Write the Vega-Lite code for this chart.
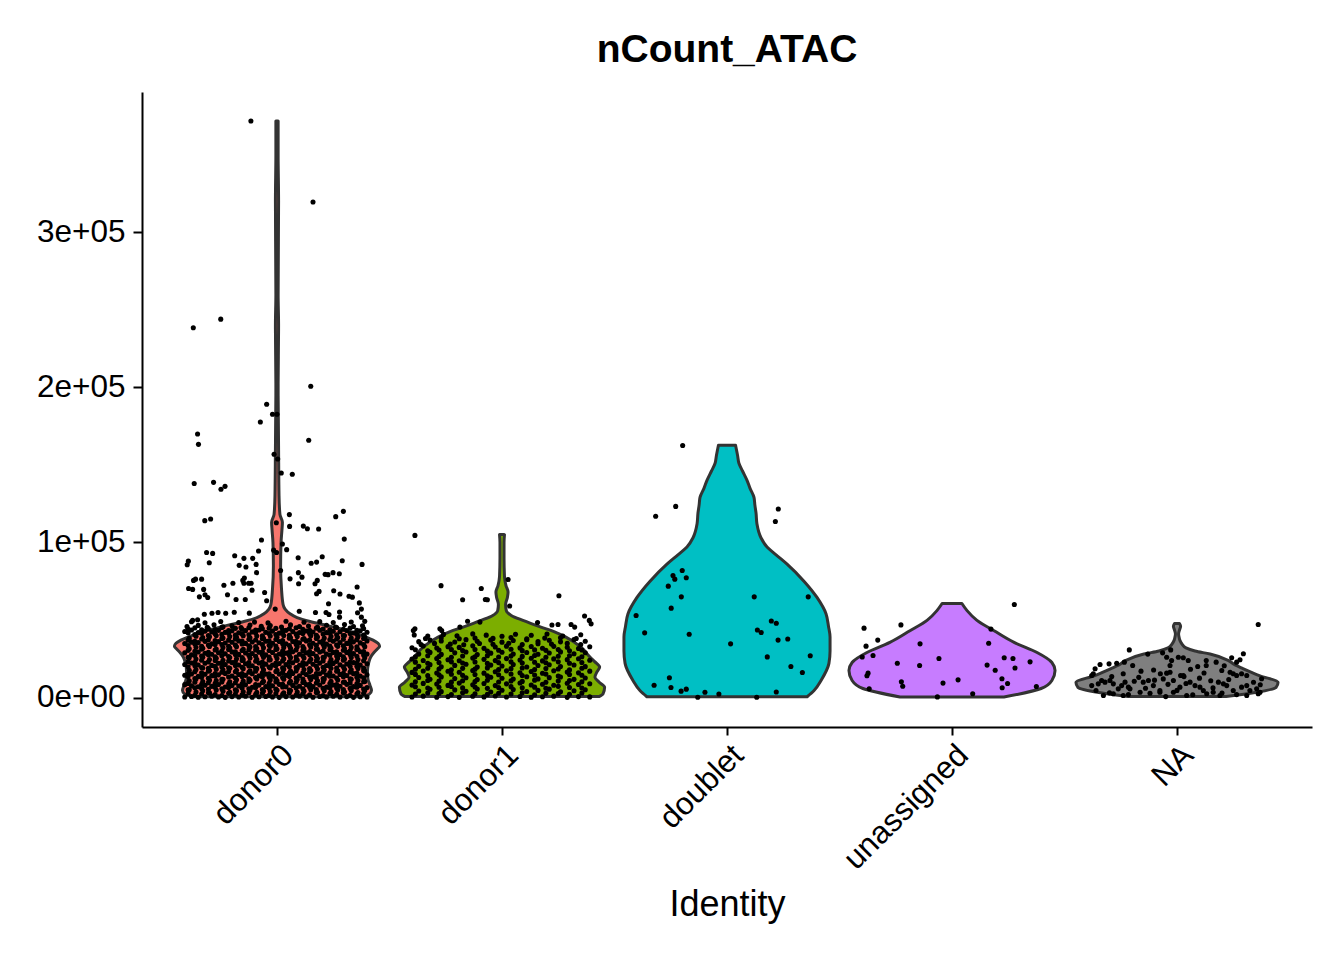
{
  "$schema": "https://vega.github.io/schema/vega-lite/v6.json",
  "width": 1170,
  "height": 635,
  "autosize": {"type": "none"},
  "padding": {"left": 142, "top": 92, "right": 32, "bottom": 233},
  "background": "white",
  "title": {"text": "nCount_ATAC", "font": "Liberation Sans", "fontSize": 39, "fontWeight": "bold", "color": "black", "anchor": "middle", "offset": 22},
  "config": {"view": {"stroke": null}, "font": "Liberation Sans"},
  "datasets": {
    "violin": [
      {"g":"donor0","v":500,"lo":0.627,"hi":1.373},{"g":"donor0","v":2000,"lo":0.591,"hi":1.409},{"g":"donor0","v":4500,"lo":0.58,"hi":1.42},{"g":"donor0","v":8000,"lo":0.587,"hi":1.413},{"g":"donor0","v":12000,"lo":0.596,"hi":1.404},{"g":"donor0","v":17000,"lo":0.598,"hi":1.402},{"g":"donor0","v":22000,"lo":0.593,"hi":1.407},{"g":"donor0","v":26000,"lo":0.584,"hi":1.416},{"g":"donor0","v":29000,"lo":0.569,"hi":1.431},{"g":"donor0","v":31000,"lo":0.556,"hi":1.444},{"g":"donor0","v":33000,"lo":0.544,"hi":1.456},{"g":"donor0","v":35000,"lo":0.551,"hi":1.449},{"g":"donor0","v":37000,"lo":0.573,"hi":1.427},{"g":"donor0","v":39000,"lo":0.604,"hi":1.396},{"g":"donor0","v":42000,"lo":0.662,"hi":1.338},{"g":"donor0","v":44500,"lo":0.724,"hi":1.276},{"g":"donor0","v":46500,"lo":0.778,"hi":1.222},{"g":"donor0","v":49000,"lo":0.853,"hi":1.147},{"g":"donor0","v":51500,"lo":0.911,"hi":1.089},{"g":"donor0","v":54000,"lo":0.942,"hi":1.058},{"g":"donor0","v":57000,"lo":0.964,"hi":1.036},{"g":"donor0","v":60000,"lo":0.973,"hi":1.027},{"g":"donor0","v":70000,"lo":0.98,"hi":1.02},{"g":"donor0","v":85000,"lo":0.984,"hi":1.016},{"g":"donor0","v":100000,"lo":0.982,"hi":1.018},{"g":"donor0","v":108000,"lo":0.978,"hi":1.022},{"g":"donor0","v":113000,"lo":0.976,"hi":1.024},{"g":"donor0","v":118000,"lo":0.987,"hi":1.013},{"g":"donor0","v":130000,"lo":0.991,"hi":1.009},{"g":"donor0","v":160000,"lo":0.993,"hi":1.007},{"g":"donor0","v":200000,"lo":0.995,"hi":1.005},{"g":"donor0","v":240000,"lo":0.993,"hi":1.007},{"g":"donor0","v":260000,"lo":0.995,"hi":1.005},{"g":"donor0","v":320000,"lo":0.993,"hi":1.007},{"g":"donor0","v":350000,"lo":0.995,"hi":1.005},{"g":"donor0","v":371600,"lo":0.995,"hi":1.005},
      {"g":"donor1","v":600,"lo":1.569,"hi":2.431},{"g":"donor1","v":2400,"lo":1.551,"hi":2.449},{"g":"donor1","v":6700,"lo":1.544,"hi":2.456},{"g":"donor1","v":10000,"lo":1.569,"hi":2.431},{"g":"donor1","v":13100,"lo":1.587,"hi":2.413},{"g":"donor1","v":16500,"lo":1.578,"hi":2.422},{"g":"donor1","v":19600,"lo":1.566,"hi":2.434},{"g":"donor1","v":23000,"lo":1.587,"hi":2.413},{"g":"donor1","v":26000,"lo":1.609,"hi":2.391},{"g":"donor1","v":32500,"lo":1.649,"hi":2.351},{"g":"donor1","v":38900,"lo":1.716,"hi":2.284},{"g":"donor1","v":42500,"lo":1.769,"hi":2.231},{"g":"donor1","v":45400,"lo":1.827,"hi":2.173},{"g":"donor1","v":49700,"lo":1.907,"hi":2.093},{"g":"donor1","v":52900,"lo":1.959,"hi":2.041},{"g":"donor1","v":56100,"lo":1.981,"hi":2.019},{"g":"donor1","v":60000,"lo":1.984,"hi":2.016},{"g":"donor1","v":64500,"lo":1.976,"hi":2.024},{"g":"donor1","v":68000,"lo":1.973,"hi":2.027},{"g":"donor1","v":72000,"lo":1.982,"hi":2.018},{"g":"donor1","v":78000,"lo":1.989,"hi":2.011},{"g":"donor1","v":90000,"lo":1.991,"hi":2.009},{"g":"donor1","v":100000,"lo":1.991,"hi":2.009},{"g":"donor1","v":105000,"lo":1.989,"hi":2.011},
      {"g":"doublet","v":500,"lo":2.644,"hi":3.356},{"g":"doublet","v":4500,"lo":2.613,"hi":3.387},{"g":"doublet","v":11000,"lo":2.582,"hi":3.418},{"g":"doublet","v":22000,"lo":2.547,"hi":3.453},{"g":"doublet","v":30000,"lo":2.542,"hi":3.458},{"g":"doublet","v":39000,"lo":2.542,"hi":3.458},{"g":"doublet","v":46000,"lo":2.549,"hi":3.451},{"g":"doublet","v":54000,"lo":2.56,"hi":3.44},{"g":"doublet","v":64500,"lo":2.6,"hi":3.4},{"g":"doublet","v":75000,"lo":2.658,"hi":3.342},{"g":"doublet","v":86000,"lo":2.733,"hi":3.267},{"g":"doublet","v":92000,"lo":2.782,"hi":3.218},{"g":"doublet","v":97000,"lo":2.822,"hi":3.178},{"g":"doublet","v":103000,"lo":2.849,"hi":3.151},{"g":"doublet","v":112000,"lo":2.867,"hi":3.133},{"g":"doublet","v":119000,"lo":2.871,"hi":3.129},{"g":"doublet","v":124000,"lo":2.876,"hi":3.124},{"g":"doublet","v":129000,"lo":2.88,"hi":3.12},{"g":"doublet","v":135000,"lo":2.898,"hi":3.102},{"g":"doublet","v":140000,"lo":2.911,"hi":3.089},{"g":"doublet","v":146000,"lo":2.931,"hi":3.069},{"g":"doublet","v":151000,"lo":2.947,"hi":3.053},{"g":"doublet","v":156000,"lo":2.953,"hi":3.047},{"g":"doublet","v":162600,"lo":2.962,"hi":3.038},
      {"g":"unassigned","v":300,"lo":3.769,"hi":4.231},{"g":"unassigned","v":5800,"lo":3.604,"hi":4.396},{"g":"unassigned","v":11000,"lo":3.556,"hi":4.444},{"g":"unassigned","v":17400,"lo":3.542,"hi":4.458},{"g":"unassigned","v":22600,"lo":3.556,"hi":4.444},{"g":"unassigned","v":29000,"lo":3.622,"hi":4.378},{"g":"unassigned","v":35500,"lo":3.724,"hi":4.276},{"g":"unassigned","v":43000,"lo":3.813,"hi":4.187},{"g":"unassigned","v":49700,"lo":3.889,"hi":4.111},{"g":"unassigned","v":56000,"lo":3.933,"hi":4.067},{"g":"unassigned","v":60600,"lo":3.956,"hi":4.044},
      {"g":"NA","v":600,"lo":4.782,"hi":5.218},{"g":"NA","v":3200,"lo":4.653,"hi":5.347},{"g":"NA","v":6500,"lo":4.56,"hi":5.44},{"g":"NA","v":9700,"lo":4.551,"hi":5.449},{"g":"NA","v":14000,"lo":4.631,"hi":5.369},{"g":"NA","v":18700,"lo":4.707,"hi":5.293},{"g":"NA","v":21000,"lo":4.742,"hi":5.258},{"g":"NA","v":24000,"lo":4.773,"hi":5.227},{"g":"NA","v":28000,"lo":4.853,"hi":5.147},{"g":"NA","v":30000,"lo":4.92,"hi":5.08},{"g":"NA","v":32000,"lo":4.96,"hi":5.04},{"g":"NA","v":34500,"lo":4.978,"hi":5.022},{"g":"NA","v":36800,"lo":4.987,"hi":5.013},{"g":"NA","v":39000,"lo":4.991,"hi":5.009},{"g":"NA","v":41000,"lo":4.993,"hi":5.007},{"g":"NA","v":43500,"lo":4.989,"hi":5.011},{"g":"NA","v":46000,"lo":4.984,"hi":5.016},{"g":"NA","v":47700,"lo":4.989,"hi":5.011}
    ],
    "cells": [
      {"x":0.884,"v":371600},{"x":1.16,"v":319400},{"x":0.75,"v":243900},{"x":0.628,"v":238300},{"x":1.15,"v":200600},{"x":0.954,"v":189000},{"x":0.98,"v":182600},{"x":1.0,"v":182600},{"x":0.926,"v":177600},{"x":0.647,"v":169900},{"x":0.651,"v":163200},{"x":1.141,"v":165800},{"x":0.987,"v":156800},{"x":1.003,"v":153700},{"x":1.019,"v":144700},{"x":1.068,"v":143900},{"x":0.632,"v":138000},{"x":0.718,"v":138700},{"x":0.751,"v":134200},{"x":0.769,"v":136100},{"x":1.295,"v":120000},{"x":1.261,"v":116600},{"x":0.679,"v":114000},{"x":0.705,"v":115100},{"x":1.055,"v":117900},{"x":0.997,"v":112700},{"x":1.056,"v":110300},{"x":1.117,"v":110500},{"x":1.135,"v":108800},{"x":1.185,"v":108600},{"x":1.299,"v":102100},{"x":0.931,"v":101500},{"x":1.024,"v":99000},{"x":1.043,"v":95300},{"x":0.985,"v":95000},{"x":0.998,"v":93500},{"x":0.918,"v":94400},{"x":0.687,"v":93500},{"x":0.714,"v":92900},{"x":0.812,"v":91400},{"x":0.853,"v":89700},{"x":0.892,"v":89700},{"x":1.094,"v":90100},{"x":1.201,"v":90700},{"x":0.606,"v":87900},{"x":0.601,"v":85600},{"x":0.699,"v":86900},{"x":0.832,"v":85200},{"x":0.862,"v":84100},{"x":0.907,"v":85800},{"x":1.152,"v":86500},{"x":1.176,"v":87300},{"x":1.29,"v":88200},{"x":1.378,"v":85800},{"x":0.909,"v":80500},{"x":1.016,"v":81900},{"x":1.095,"v":80500},{"x":1.111,"v":77600},{"x":1.214,"v":79400},{"x":1.227,"v":79200},{"x":1.249,"v":80500},{"x":1.277,"v":79800},{"x":0.629,"v":75500},{"x":0.638,"v":76300},{"x":0.665,"v":76300},{"x":0.855,"v":77000},{"x":0.848,"v":75500},{"x":0.853,"v":73700},{"x":0.874,"v":73700},{"x":0.885,"v":73700},{"x":0.804,"v":73700},{"x":0.764,"v":72400},{"x":1.179,"v":75500},{"x":1.169,"v":73300},{"x":1.058,"v":76500},{"x":1.096,"v":73300},{"x":1.356,"v":71200},{"x":0.607,"v":70300},{"x":0.625,"v":69700},{"x":0.674,"v":69700},{"x":0.889,"v":69200},{"x":0.78,"v":66200},{"x":0.655,"v":64900},{"x":0.68,"v":66200},{"x":0.692,"v":64500},{"x":0.818,"v":63200},{"x":0.859,"v":63200},{"x":0.945,"v":67700},{"x":1.176,"v":66900},{"x":1.187,"v":68400},{"x":1.252,"v":68800},{"x":1.28,"v":66700},{"x":1.32,"v":65300},{"x":1.335,"v":64700},{"x":0.954,"v":62400},{"x":1.229,"v":60400},{"x":1.366,"v":61000},{"x":1.375,"v":57000},{"x":0.877,"v":54400},{"x":1.099,"v":55600},{"x":0.992,"v":57000},{"x":1.171,"v":54800},{"x":1.218,"v":54800},{"x":1.231,"v":53500},{"x":1.278,"v":55100},{"x":1.278,"v":51800},{"x":1.358,"v":54600},{"x":1.375,"v":51800},{"x":0.625,"v":49700},{"x":0.647,"v":50100},{"x":0.677,"v":53700},{"x":0.711,"v":54300},{"x":0.738,"v":54800},{"x":0.772,"v":54300},{"x":0.81,"v":55000},
      {"x":0.59,"v":300},{"x":0.62,"v":700},{"x":0.65,"v":200},{"x":0.68,"v":500},{"x":0.71,"v":900},{"x":0.74,"v":400},{"x":0.77,"v":100},{"x":0.8,"v":600},{"x":0.83,"v":300},{"x":0.86,"v":800},{"x":0.89,"v":200},{"x":0.92,"v":500},{"x":0.95,"v":700},{"x":0.98,"v":400},{"x":1.01,"v":100},{"x":1.04,"v":600},{"x":1.07,"v":300},{"x":1.1,"v":900},{"x":1.13,"v":500},{"x":1.16,"v":200},{"x":1.19,"v":700},{"x":1.22,"v":400},{"x":1.25,"v":800},{"x":1.28,"v":300},{"x":1.31,"v":600},{"x":1.34,"v":100},{"x":1.37,"v":500},{"x":1.4,"v":300},
      {"x":0.605,"v":2600},{"x":0.635,"v":1500},{"x":0.665,"v":2300},{"x":0.695,"v":3000},{"x":0.725,"v":1900},{"x":0.755,"v":1300},{"x":0.785,"v":2700},{"x":0.815,"v":2200},{"x":0.845,"v":1700},{"x":0.875,"v":3100},{"x":0.905,"v":2000},{"x":0.935,"v":2800},{"x":0.965,"v":1400},{"x":0.995,"v":2500},{"x":1.025,"v":2100},{"x":1.055,"v":2900},{"x":1.085,"v":1600},{"x":1.115,"v":2400},{"x":1.145,"v":1800},{"x":1.175,"v":3200},{"x":1.205,"v":1200},{"x":1.235,"v":2600},{"x":1.265,"v":2000},{"x":1.295,"v":3000},{"x":1.325,"v":1500},{"x":1.355,"v":2300},{"x":1.385,"v":2700},
      {"x":0.61,"v":5000},{"x":0.64,"v":3500},{"x":0.67,"v":4300},{"x":0.7,"v":3000},{"x":0.73,"v":4800},{"x":0.76,"v":4000},{"x":0.79,"v":3400},{"x":0.82,"v":4400},{"x":0.85,"v":3700},{"x":0.88,"v":4900},{"x":0.91,"v":3300},{"x":0.94,"v":4200},{"x":0.97,"v":3900},{"x":1.0,"v":4700},{"x":1.03,"v":3100},{"x":1.06,"v":4500},{"x":1.09,"v":3600},{"x":1.12,"v":4100},{"x":1.15,"v":5000},{"x":1.18,"v":3400},{"x":1.21,"v":4300},{"x":1.24,"v":3800},{"x":1.27,"v":4800},{"x":1.3,"v":3500},{"x":1.33,"v":4600},{"x":1.36,"v":3200},{"x":1.39,"v":4600},
      {"x":0.605,"v":4900},{"x":0.635,"v":6300},{"x":0.665,"v":5800},{"x":0.695,"v":5300},{"x":0.725,"v":6700},{"x":0.755,"v":5600},{"x":0.785,"v":6400},{"x":0.815,"v":5000},{"x":0.845,"v":6100},{"x":0.875,"v":5700},{"x":0.905,"v":6500},{"x":0.935,"v":5200},{"x":0.965,"v":6000},{"x":0.995,"v":5400},{"x":1.025,"v":6800},{"x":1.055,"v":4800},{"x":1.085,"v":6200},{"x":1.115,"v":5600},{"x":1.145,"v":6600},{"x":1.175,"v":5100},{"x":1.205,"v":5900},{"x":1.235,"v":6300},{"x":1.265,"v":6200},{"x":1.295,"v":5100},{"x":1.325,"v":5900},{"x":1.355,"v":6600},{"x":1.385,"v":5500},
      {"x":0.59,"v":8300},{"x":0.62,"v":7500},{"x":0.65,"v":6900},{"x":0.68,"v":7900},{"x":0.71,"v":7200},{"x":0.74,"v":8400},{"x":0.77,"v":6800},{"x":0.8,"v":7700},{"x":0.83,"v":7400},{"x":0.86,"v":8200},{"x":0.89,"v":6600},{"x":0.92,"v":8000},{"x":0.95,"v":7100},{"x":0.98,"v":7600},{"x":1.01,"v":8500},{"x":1.04,"v":6900},{"x":1.07,"v":7800},{"x":1.1,"v":7300},{"x":1.13,"v":8300},{"x":1.16,"v":7000},{"x":1.19,"v":8100},{"x":1.22,"v":6700},{"x":1.25,"v":8100},{"x":1.28,"v":7300},{"x":1.31,"v":8500},{"x":1.34,"v":7000},{"x":1.37,"v":7800},{"x":1.4,"v":6500},
      {"x":0.605,"v":9100},{"x":0.635,"v":9900},{"x":0.665,"v":8500},{"x":0.695,"v":9600},{"x":0.725,"v":9200},{"x":0.755,"v":10000},{"x":0.785,"v":8700},{"x":0.815,"v":9500},{"x":0.845,"v":8900},{"x":0.875,"v":10300},{"x":0.905,"v":8300},{"x":0.935,"v":9700},{"x":0.965,"v":9100},{"x":0.995,"v":10100},{"x":1.025,"v":8600},{"x":1.055,"v":9400},{"x":1.085,"v":9800},{"x":1.115,"v":9700},{"x":1.145,"v":8600},{"x":1.175,"v":9400},{"x":1.205,"v":10100},{"x":1.235,"v":9000},{"x":1.265,"v":8400},{"x":1.295,"v":9800},{"x":1.325,"v":9300},{"x":1.355,"v":8800},{"x":1.385,"v":10200},
      {"x":0.61,"v":10700},{"x":0.64,"v":11900},{"x":0.67,"v":10300},{"x":0.7,"v":11200},{"x":0.73,"v":10900},{"x":0.76,"v":11700},{"x":0.79,"v":10100},{"x":0.82,"v":11500},{"x":0.85,"v":10600},{"x":0.88,"v":11100},{"x":0.91,"v":12000},{"x":0.94,"v":10400},{"x":0.97,"v":11300},{"x":1.0,"v":10800},{"x":1.03,"v":11800},{"x":1.06,"v":10500},{"x":1.09,"v":11600},{"x":1.12,"v":10200},{"x":1.15,"v":11600},{"x":1.18,"v":10800},{"x":1.21,"v":12000},{"x":1.24,"v":10500},{"x":1.27,"v":11300},{"x":1.3,"v":10000},{"x":1.33,"v":11800},{"x":1.36,"v":11000},{"x":1.39,"v":10400},
      {"x":0.605,"v":13500},{"x":0.635,"v":12200},{"x":0.665,"v":13000},{"x":0.695,"v":12400},{"x":0.725,"v":13800},{"x":0.755,"v":11800},{"x":0.785,"v":13200},{"x":0.815,"v":12600},{"x":0.845,"v":13600},{"x":0.875,"v":12100},{"x":0.905,"v":12900},{"x":0.935,"v":13300},{"x":0.965,"v":13200},{"x":0.995,"v":12100},{"x":1.025,"v":12900},{"x":1.055,"v":13600},{"x":1.085,"v":12500},{"x":1.115,"v":11900},{"x":1.145,"v":13300},{"x":1.175,"v":12800},{"x":1.205,"v":12300},{"x":1.235,"v":13700},{"x":1.265,"v":12600},{"x":1.295,"v":13400},{"x":1.325,"v":12000},{"x":1.355,"v":13100},{"x":1.385,"v":12700},
      {"x":0.59,"v":14400},{"x":0.62,"v":15200},{"x":0.65,"v":13600},{"x":0.68,"v":15000},{"x":0.71,"v":14100},{"x":0.74,"v":14600},{"x":0.77,"v":15500},{"x":0.8,"v":13900},{"x":0.83,"v":14800},{"x":0.86,"v":14300},{"x":0.89,"v":15300},{"x":0.92,"v":14000},{"x":0.95,"v":15100},{"x":0.98,"v":13700},{"x":1.01,"v":15100},{"x":1.04,"v":14300},{"x":1.07,"v":15500},{"x":1.1,"v":14000},{"x":1.13,"v":14800},{"x":1.16,"v":13500},{"x":1.19,"v":15300},{"x":1.22,"v":14500},{"x":1.25,"v":13900},{"x":1.28,"v":14900},{"x":1.31,"v":14200},{"x":1.34,"v":15400},{"x":1.37,"v":13800},{"x":1.4,"v":14700},
      {"x":0.605,"v":15200},{"x":0.635,"v":16600},{"x":0.665,"v":16000},{"x":0.695,"v":17000},{"x":0.725,"v":15500},{"x":0.755,"v":16300},{"x":0.785,"v":16700},{"x":0.815,"v":16600},{"x":0.845,"v":15500},{"x":0.875,"v":16300},{"x":0.905,"v":17000},{"x":0.935,"v":15900},{"x":0.965,"v":15300},{"x":0.995,"v":16700},{"x":1.025,"v":16200},{"x":1.055,"v":15700},{"x":1.085,"v":17100},{"x":1.115,"v":16000},{"x":1.145,"v":16800},{"x":1.175,"v":15400},{"x":1.205,"v":16500},{"x":1.235,"v":16100},{"x":1.265,"v":16900},{"x":1.295,"v":15600},{"x":1.325,"v":16400},{"x":1.355,"v":15800},{"x":1.385,"v":17200},
      {"x":0.61,"v":17600},{"x":0.64,"v":18100},{"x":0.67,"v":19000},{"x":0.7,"v":17400},{"x":0.73,"v":18300},{"x":0.76,"v":17800},{"x":0.79,"v":18800},{"x":0.82,"v":17500},{"x":0.85,"v":18600},{"x":0.88,"v":17200},{"x":0.91,"v":18600},{"x":0.94,"v":17800},{"x":0.97,"v":19000},{"x":1.0,"v":17500},{"x":1.03,"v":18300},{"x":1.06,"v":17000},{"x":1.09,"v":18800},{"x":1.12,"v":18000},{"x":1.15,"v":17400},{"x":1.18,"v":18400},{"x":1.21,"v":17700},{"x":1.24,"v":18900},{"x":1.27,"v":17300},{"x":1.3,"v":18200},{"x":1.33,"v":17900},{"x":1.36,"v":18700},{"x":1.39,"v":17100},
      {"x":0.605,"v":19800},{"x":0.635,"v":20500},{"x":0.665,"v":19400},{"x":0.695,"v":18800},{"x":0.725,"v":20200},{"x":0.755,"v":19700},{"x":0.785,"v":19200},{"x":0.815,"v":20600},{"x":0.845,"v":19500},{"x":0.875,"v":20300},{"x":0.905,"v":18900},{"x":0.935,"v":20000},{"x":0.965,"v":19600},{"x":0.995,"v":20400},{"x":1.025,"v":19100},{"x":1.055,"v":19900},{"x":1.085,"v":19300},{"x":1.115,"v":20700},{"x":1.145,"v":18700},{"x":1.175,"v":20100},{"x":1.205,"v":19500},{"x":1.235,"v":20500},{"x":1.265,"v":19000},{"x":1.295,"v":19800},{"x":1.325,"v":20200},{"x":1.355,"v":20100},{"x":1.385,"v":19000},
      {"x":0.59,"v":21300},{"x":0.62,"v":22300},{"x":0.65,"v":21000},{"x":0.68,"v":22100},{"x":0.71,"v":20700},{"x":0.74,"v":22100},{"x":0.77,"v":21300},{"x":0.8,"v":22500},{"x":0.83,"v":21000},{"x":0.86,"v":21800},{"x":0.89,"v":20500},{"x":0.92,"v":22300},{"x":0.95,"v":21500},{"x":0.98,"v":20900},{"x":1.01,"v":21900},{"x":1.04,"v":21200},{"x":1.07,"v":22400},{"x":1.1,"v":20800},{"x":1.13,"v":21700},{"x":1.16,"v":21400},{"x":1.19,"v":22200},{"x":1.22,"v":20600},{"x":1.25,"v":22000},{"x":1.28,"v":21100},{"x":1.31,"v":21600},{"x":1.34,"v":22500},{"x":1.37,"v":20900},{"x":1.4,"v":21800},
      {"x":0.605,"v":23200},{"x":0.635,"v":22700},{"x":0.665,"v":24100},{"x":0.695,"v":23000},{"x":0.725,"v":23800},{"x":0.755,"v":22400},{"x":0.785,"v":23500},{"x":0.815,"v":23100},{"x":0.845,"v":23900},{"x":0.875,"v":22600},{"x":0.905,"v":23400},{"x":0.935,"v":22800},{"x":0.965,"v":24200},{"x":0.995,"v":22200},{"x":1.025,"v":23600},{"x":1.055,"v":23000},{"x":1.085,"v":24000},{"x":1.115,"v":22500},{"x":1.145,"v":23300},{"x":1.175,"v":23700},{"x":1.205,"v":23600},{"x":1.235,"v":22500},{"x":1.265,"v":23300},{"x":1.295,"v":24000},{"x":1.325,"v":22900},{"x":1.355,"v":22300},{"x":1.385,"v":23700},
      {"x":0.61,"v":25600},{"x":0.64,"v":24800},{"x":0.67,"v":26000},{"x":0.7,"v":24500},{"x":0.73,"v":25300},{"x":0.76,"v":24000},{"x":0.79,"v":25800},{"x":0.82,"v":25000},{"x":0.85,"v":24400},{"x":0.88,"v":25400},{"x":0.91,"v":24700},{"x":0.94,"v":25900},{"x":0.97,"v":24300},{"x":1.0,"v":25200},{"x":1.03,"v":24900},{"x":1.06,"v":25700},{"x":1.09,"v":24100},{"x":1.12,"v":25500},{"x":1.15,"v":24600},{"x":1.18,"v":25100},{"x":1.21,"v":26000},{"x":1.24,"v":24400},{"x":1.27,"v":25300},{"x":1.3,"v":24800},{"x":1.33,"v":25800},{"x":1.36,"v":24500},{"x":1.39,"v":25600},
      {"x":0.605,"v":26000},{"x":0.635,"v":27100},{"x":0.665,"v":26700},{"x":0.695,"v":27500},{"x":0.725,"v":26200},{"x":0.755,"v":27000},{"x":0.785,"v":26400},{"x":0.815,"v":27800},{"x":0.845,"v":25800},{"x":0.875,"v":27200},{"x":0.905,"v":26600},{"x":0.935,"v":27600},{"x":0.965,"v":26100},{"x":0.995,"v":26900},{"x":1.025,"v":27300},{"x":1.055,"v":27200},{"x":1.085,"v":26100},{"x":1.115,"v":26900},{"x":1.145,"v":27600},{"x":1.175,"v":26500},{"x":1.205,"v":25900},{"x":1.235,"v":27300},{"x":1.265,"v":26800},{"x":1.295,"v":26300},{"x":1.325,"v":27700},{"x":1.355,"v":26600},{"x":1.385,"v":27400},
      {"x":0.59,"v":28800},{"x":0.62,"v":27500},{"x":0.65,"v":29300},{"x":0.68,"v":28500},{"x":0.71,"v":27900},{"x":0.74,"v":28900},{"x":0.77,"v":28200},{"x":0.8,"v":29400},{"x":0.83,"v":27800},{"x":0.86,"v":28700},{"x":0.89,"v":28400},{"x":0.92,"v":29200},{"x":0.95,"v":27600},{"x":0.98,"v":29000},{"x":1.01,"v":28100},{"x":1.04,"v":28600},{"x":1.07,"v":29500},{"x":1.1,"v":27900},{"x":1.13,"v":28800},{"x":1.16,"v":28300},{"x":1.19,"v":29300},{"x":1.22,"v":28000},{"x":1.25,"v":29100},{"x":1.28,"v":27700},{"x":1.31,"v":29100},{"x":1.34,"v":28300},{"x":1.37,"v":29500},{"x":1.4,"v":28000},
      {"x":0.605,"v":30400},{"x":0.635,"v":29800},{"x":0.665,"v":31200},{"x":0.695,"v":29200},{"x":0.725,"v":30600},{"x":0.755,"v":30000},{"x":0.785,"v":31000},{"x":0.815,"v":29500},{"x":0.845,"v":30300},{"x":0.875,"v":30700},{"x":0.905,"v":30600},{"x":0.935,"v":29500},{"x":0.965,"v":30300},{"x":0.995,"v":31000},{"x":1.025,"v":29900},{"x":1.055,"v":29300},{"x":1.085,"v":30700},{"x":1.115,"v":30200},{"x":1.145,"v":29700},{"x":1.175,"v":31100},{"x":1.205,"v":30000},{"x":1.235,"v":30800},{"x":1.265,"v":29400},{"x":1.295,"v":30500},{"x":1.325,"v":30100},{"x":1.355,"v":30900},{"x":1.385,"v":29600},
      {"x":0.61,"v":31400},{"x":0.64,"v":32400},{"x":0.67,"v":31700},{"x":0.7,"v":32900},{"x":0.73,"v":31300},{"x":0.76,"v":32200},{"x":0.79,"v":31900},{"x":0.82,"v":32700},{"x":0.85,"v":31100},{"x":0.88,"v":32500},{"x":0.91,"v":31600},{"x":0.94,"v":32100},{"x":0.97,"v":33000},{"x":1.0,"v":31400},{"x":1.03,"v":32300},{"x":1.06,"v":31800},{"x":1.09,"v":32800},{"x":1.12,"v":31500},{"x":1.15,"v":32600},{"x":1.18,"v":31200},{"x":1.21,"v":32600},{"x":1.24,"v":31800},{"x":1.27,"v":33000},{"x":1.3,"v":31500},{"x":1.33,"v":32300},{"x":1.36,"v":31000},{"x":1.39,"v":32800},
      {"x":0.605,"v":33500},{"x":0.635,"v":34500},{"x":0.665,"v":33000},{"x":0.695,"v":33800},{"x":0.725,"v":34200},{"x":0.755,"v":34100},{"x":0.785,"v":33000},{"x":0.815,"v":33800},{"x":0.845,"v":34500},{"x":0.875,"v":33400},{"x":0.905,"v":32800},{"x":0.935,"v":34200},{"x":0.965,"v":33700},{"x":0.995,"v":33200},{"x":1.025,"v":34600},{"x":1.055,"v":33500},{"x":1.085,"v":34300},{"x":1.115,"v":32900},{"x":1.145,"v":34000},{"x":1.175,"v":33600},{"x":1.205,"v":34400},{"x":1.235,"v":33100},{"x":1.265,"v":33900},{"x":1.295,"v":33300},{"x":1.325,"v":34700},{"x":1.355,"v":32700},{"x":1.385,"v":34100},
      {"x":0.59,"v":34800},{"x":0.62,"v":35700},{"x":0.65,"v":35400},{"x":0.68,"v":36200},{"x":0.71,"v":34600},{"x":0.74,"v":36000},{"x":0.77,"v":35100},{"x":0.8,"v":35600},{"x":0.83,"v":36500},{"x":0.86,"v":34900},{"x":0.89,"v":35800},{"x":0.92,"v":35300},{"x":0.95,"v":36300},{"x":0.98,"v":35000},{"x":1.01,"v":36100},{"x":1.04,"v":34700},{"x":1.07,"v":36100},{"x":1.1,"v":35300},{"x":1.13,"v":36500},{"x":1.16,"v":35000},{"x":1.19,"v":35800},{"x":1.22,"v":34500},{"x":1.25,"v":36300},{"x":1.28,"v":35500},{"x":1.31,"v":34900},{"x":1.34,"v":35900},{"x":1.37,"v":35200},{"x":1.4,"v":36400},
      {"x":0.605,"v":36900},{"x":0.635,"v":36300},{"x":0.665,"v":37700},{"x":0.695,"v":37200},{"x":0.725,"v":36700},{"x":0.755,"v":38100},{"x":0.785,"v":37000},{"x":0.815,"v":37800},{"x":0.845,"v":36400},{"x":0.875,"v":37500},{"x":0.905,"v":37100},{"x":0.935,"v":37900},{"x":0.965,"v":36600},{"x":0.995,"v":37400},{"x":1.025,"v":36800},{"x":1.055,"v":38200},{"x":1.085,"v":36200},{"x":1.115,"v":37600},{"x":1.145,"v":37000},{"x":1.175,"v":38000},{"x":1.205,"v":36500},{"x":1.235,"v":37300},{"x":1.265,"v":37700},{"x":1.295,"v":37600},{"x":1.325,"v":36500},{"x":1.355,"v":37300},{"x":1.385,"v":38000},
      {"x":0.61,"v":38100},{"x":0.64,"v":39500},{"x":0.67,"v":38600},{"x":0.7,"v":39100},{"x":0.73,"v":40000},{"x":0.76,"v":38400},{"x":0.79,"v":39300},{"x":0.82,"v":38800},{"x":0.85,"v":39800},{"x":0.88,"v":38500},{"x":0.91,"v":39600},{"x":0.94,"v":38200},{"x":0.97,"v":39600},{"x":1.0,"v":38800},{"x":1.03,"v":40000},{"x":1.06,"v":38500},{"x":1.09,"v":39300},{"x":1.12,"v":38000},{"x":1.15,"v":39800},{"x":1.18,"v":39000},{"x":1.21,"v":38400},{"x":1.24,"v":39400},{"x":1.27,"v":38700},{"x":1.3,"v":39900},{"x":1.33,"v":38300},{"x":1.36,"v":39200},{"x":1.39,"v":38900},
      {"x":0.605,"v":41700},{"x":0.635,"v":40600},{"x":0.665,"v":41400},{"x":0.695,"v":40000},{"x":0.725,"v":41100},{"x":0.755,"v":40700},{"x":0.785,"v":41500},{"x":0.815,"v":40200},{"x":0.845,"v":41000},{"x":0.875,"v":40400},{"x":0.905,"v":41800},{"x":0.935,"v":39800},{"x":0.965,"v":41200},{"x":0.995,"v":40600},{"x":1.025,"v":41600},{"x":1.055,"v":40100},{"x":1.085,"v":40900},{"x":1.115,"v":41300},{"x":1.145,"v":41200},{"x":1.175,"v":40100},{"x":1.205,"v":40900},{"x":1.235,"v":41600},{"x":1.265,"v":40500},{"x":1.295,"v":39900},{"x":1.325,"v":41300},{"x":1.355,"v":40800},{"x":1.385,"v":40300},
      {"x":0.59,"v":42600},{"x":0.62,"v":43500},{"x":0.65,"v":41900},{"x":0.68,"v":42800},{"x":0.71,"v":42300},{"x":0.74,"v":43300},{"x":0.77,"v":42000},{"x":0.8,"v":43100},{"x":0.83,"v":41700},{"x":0.86,"v":43100},{"x":0.89,"v":42300},{"x":0.92,"v":43500},{"x":0.95,"v":42000},{"x":0.98,"v":42800},{"x":1.01,"v":41500},{"x":1.04,"v":43300},{"x":1.07,"v":42500},{"x":1.1,"v":41900},{"x":1.13,"v":42900},{"x":1.16,"v":42200},{"x":1.19,"v":43400},{"x":1.22,"v":41800},{"x":1.25,"v":42700},{"x":1.28,"v":42400},{"x":1.31,"v":43200},{"x":1.34,"v":41600},{"x":1.37,"v":43000},{"x":1.4,"v":42100},
      {"x":0.605,"v":44100},{"x":0.635,"v":44900},{"x":0.665,"v":43600},{"x":0.695,"v":44400},{"x":0.725,"v":43800},{"x":0.755,"v":45200},{"x":0.785,"v":43200},{"x":0.815,"v":44600},{"x":0.845,"v":44000},{"x":0.875,"v":45000},{"x":0.905,"v":43500},{"x":0.935,"v":44300},{"x":0.965,"v":44700},{"x":0.995,"v":44600},{"x":1.025,"v":43500},{"x":1.055,"v":44300},{"x":1.085,"v":45000},{"x":1.115,"v":43900},{"x":1.145,"v":43300},{"x":1.175,"v":44700},{"x":1.205,"v":44200},{"x":1.235,"v":43700},{"x":1.265,"v":45100},{"x":1.295,"v":44000},{"x":1.325,"v":44800},{"x":1.355,"v":43400},{"x":1.385,"v":44500},
      {"x":0.6,"v":45800},{"x":0.65,"v":46500},{"x":0.69,"v":45300},{"x":0.72,"v":46900},{"x":0.76,"v":45600},{"x":0.8,"v":46200},{"x":0.84,"v":45100},{"x":0.88,"v":46700},{"x":0.93,"v":45900},{"x":0.97,"v":46400},{"x":1.02,"v":45400},{"x":1.06,"v":46800},{"x":1.1,"v":45700},{"x":1.14,"v":46100},{"x":1.18,"v":45200},{"x":1.22,"v":46600},{"x":1.26,"v":45500},{"x":1.3,"v":47000},{"x":1.34,"v":45800},{"x":1.38,"v":46300},
      {"x":0.62,"v":48800},{"x":0.68,"v":48200},{"x":0.75,"v":49000},{"x":0.83,"v":48400},{"x":0.9,"v":48600},{"x":0.96,"v":48100},{"x":1.04,"v":49200},{"x":1.12,"v":48500},{"x":1.19,"v":48900},{"x":1.25,"v":48300},{"x":1.33,"v":48700},{"x":1.39,"v":49100},
      {"x":1.613,"v":104500},{"x":1.729,"v":72100},{"x":1.908,"v":70300},{"x":2.027,"v":76100},{"x":1.825,"v":63000},{"x":1.926,"v":63200},{"x":1.935,"v":63000},{"x":2.253,"v":65600},{"x":2.034,"v":59000},{"x":2.367,"v":52500},{"x":2.158,"v":48400},{"x":2.222,"v":46700},{"x":2.249,"v":47100},{"x":2.307,"v":47100},{"x":2.323,"v":45400},{"x":2.396,"v":47500},{"x":2.388,"v":49700},{"x":1.847,"v":49200},{"x":1.813,"v":45400},{"x":1.902,"v":48600},{"x":1.606,"v":43200},{"x":1.613,"v":44300},{"x":1.724,"v":44300},{"x":1.732,"v":43200},
      {"x":1.6,"v":300},{"x":1.65,"v":900},{"x":1.71,"v":200},{"x":1.76,"v":600},{"x":1.81,"v":100},{"x":1.87,"v":800},{"x":1.92,"v":400},{"x":1.97,"v":1000},{"x":2.02,"v":300},{"x":2.08,"v":700},{"x":2.13,"v":200},{"x":2.18,"v":500},{"x":2.23,"v":900},{"x":2.29,"v":100},{"x":2.34,"v":600},{"x":2.39,"v":400},
      {"x":1.615,"v":2200},{"x":1.67,"v":2900},{"x":1.72,"v":2600},{"x":1.775,"v":1900},{"x":1.825,"v":3100},{"x":1.88,"v":2400},{"x":1.935,"v":2000},{"x":1.985,"v":2800},{"x":2.04,"v":2300},{"x":2.09,"v":3000},{"x":2.145,"v":1800},{"x":2.195,"v":2700},{"x":2.25,"v":2500},{"x":2.3,"v":2100},{"x":2.355,"v":2900},
      {"x":1.63,"v":4200},{"x":1.68,"v":5300},{"x":1.73,"v":3800},{"x":1.79,"v":4900},{"x":1.84,"v":4000},{"x":1.89,"v":5500},{"x":1.95,"v":3600},{"x":2.0,"v":4700},{"x":2.05,"v":5100},{"x":2.11,"v":3900},{"x":2.16,"v":4600},{"x":2.21,"v":5400},{"x":2.26,"v":3700},{"x":2.32,"v":4400},{"x":2.37,"v":5000},
      {"x":1.615,"v":6900},{"x":1.67,"v":6100},{"x":1.72,"v":6600},{"x":1.775,"v":7100},{"x":1.825,"v":6200},{"x":1.88,"v":6800},{"x":1.935,"v":5900},{"x":1.985,"v":6400},{"x":2.04,"v":7000},{"x":2.09,"v":6300},{"x":2.145,"v":6700},{"x":2.195,"v":6000},{"x":2.25,"v":7200},{"x":2.3,"v":6500},{"x":2.355,"v":6100},
      {"x":1.6,"v":8000},{"x":1.65,"v":9100},{"x":1.71,"v":8700},{"x":1.76,"v":7800},{"x":1.81,"v":9300},{"x":1.87,"v":8200},{"x":1.92,"v":9000},{"x":1.97,"v":7700},{"x":2.02,"v":8800},{"x":2.08,"v":9400},{"x":2.13,"v":8100},{"x":2.18,"v":8600},{"x":2.23,"v":7900},{"x":2.29,"v":9200},{"x":2.34,"v":8400},{"x":2.39,"v":8900},
      {"x":1.615,"v":10200},{"x":1.67,"v":11000},{"x":1.72,"v":10600},{"x":1.775,"v":9900},{"x":1.825,"v":10800},{"x":1.88,"v":10300},{"x":1.935,"v":11100},{"x":1.985,"v":10000},{"x":2.04,"v":10700},{"x":2.09,"v":10400},{"x":2.145,"v":11200},{"x":2.195,"v":9800},{"x":2.25,"v":10600},{"x":2.3,"v":10900},{"x":2.355,"v":10100},
      {"x":1.63,"v":12900},{"x":1.68,"v":11800},{"x":1.73,"v":13300},{"x":1.79,"v":12200},{"x":1.84,"v":12700},{"x":1.89,"v":11600},{"x":1.95,"v":13100},{"x":2.0,"v":12400},{"x":2.05,"v":11900},{"x":2.11,"v":13400},{"x":2.16,"v":12000},{"x":2.21,"v":12800},{"x":2.26,"v":13200},{"x":2.32,"v":11700},{"x":2.37,"v":12600},
      {"x":1.615,"v":14900},{"x":1.67,"v":14100},{"x":1.72,"v":14600},{"x":1.775,"v":15000},{"x":1.825,"v":14300},{"x":1.88,"v":14800},{"x":1.935,"v":14000},{"x":1.985,"v":14700},{"x":2.04,"v":15200},{"x":2.09,"v":14200},{"x":2.145,"v":14500},{"x":2.195,"v":15100},{"x":2.25,"v":13900},{"x":2.3,"v":14800},{"x":2.355,"v":14400},
      {"x":1.6,"v":16200},{"x":1.65,"v":17100},{"x":1.71,"v":15800},{"x":1.76,"v":16900},{"x":1.81,"v":16300},{"x":1.87,"v":17400},{"x":1.92,"v":15700},{"x":1.97,"v":16600},{"x":2.02,"v":17200},{"x":2.08,"v":16000},{"x":2.13,"v":16800},{"x":2.18,"v":15600},{"x":2.23,"v":17300},{"x":2.29,"v":16400},{"x":2.34,"v":15900},{"x":2.39,"v":17000},
      {"x":1.615,"v":18200},{"x":1.67,"v":18900},{"x":1.72,"v":18400},{"x":1.775,"v":17900},{"x":1.825,"v":18800},{"x":1.88,"v":18300},{"x":1.935,"v":19100},{"x":1.985,"v":18000},{"x":2.04,"v":18600},{"x":2.09,"v":19000},{"x":2.145,"v":18100},{"x":2.195,"v":18700},{"x":2.25,"v":18400},{"x":2.3,"v":17800},{"x":2.355,"v":18900},
      {"x":1.63,"v":20100},{"x":1.68,"v":21200},{"x":1.73,"v":19800},{"x":1.79,"v":20700},{"x":1.84,"v":21400},{"x":1.89,"v":19600},{"x":1.95,"v":20900},{"x":2.0,"v":20300},{"x":2.05,"v":21300},{"x":2.11,"v":19700},{"x":2.16,"v":20600},{"x":2.21,"v":21100},{"x":2.26,"v":20000},{"x":2.32,"v":21000},{"x":2.37,"v":19900},
      {"x":1.615,"v":22800},{"x":1.67,"v":22100},{"x":1.72,"v":22600},{"x":1.775,"v":23000},{"x":1.825,"v":22300},{"x":1.88,"v":22900},{"x":1.935,"v":22000},{"x":1.985,"v":22500},{"x":2.04,"v":23100},{"x":2.09,"v":22200},{"x":2.145,"v":22700},{"x":2.195,"v":22400},{"x":2.25,"v":23000},{"x":2.3,"v":22100},{"x":2.355,"v":22600},
      {"x":1.6,"v":24800},{"x":1.65,"v":23900},{"x":1.71,"v":25200},{"x":1.76,"v":24300},{"x":1.81,"v":23700},{"x":1.87,"v":25400},{"x":1.92,"v":24600},{"x":1.97,"v":23800},{"x":2.02,"v":25100},{"x":2.08,"v":24200},{"x":2.13,"v":25300},{"x":2.18,"v":23600},{"x":2.23,"v":24900},{"x":2.29,"v":24400},{"x":2.34,"v":25000},{"x":2.39,"v":24000},
      {"x":1.615,"v":26200},{"x":1.67,"v":26900},{"x":1.72,"v":26400},{"x":1.775,"v":26000},{"x":1.825,"v":26800},{"x":1.88,"v":26300},{"x":1.935,"v":27000},{"x":1.985,"v":26100},{"x":2.04,"v":26700},{"x":2.09,"v":26500},{"x":2.145,"v":27100},{"x":2.195,"v":26000},{"x":2.25,"v":26600},{"x":2.3,"v":26900},{"x":2.355,"v":26300},
      {"x":1.63,"v":28000},{"x":1.68,"v":29100},{"x":1.73,"v":27800},{"x":1.79,"v":28800},{"x":1.84,"v":29300},{"x":1.89,"v":27700},{"x":1.95,"v":28600},{"x":2.0,"v":29200},{"x":2.05,"v":28100},{"x":2.11,"v":29000},{"x":2.16,"v":27900},{"x":2.21,"v":28700},{"x":2.26,"v":29400},{"x":2.32,"v":28200},{"x":2.37,"v":28900},
      {"x":1.615,"v":30800},{"x":1.67,"v":30100},{"x":1.72,"v":30600},{"x":1.775,"v":31000},{"x":1.825,"v":30300},{"x":1.88,"v":30900},{"x":1.935,"v":30000},{"x":1.985,"v":30500},{"x":2.04,"v":31100},{"x":2.09,"v":30200},{"x":2.145,"v":30700},{"x":2.195,"v":30400},{"x":2.25,"v":31000},{"x":2.3,"v":30100},{"x":2.355,"v":30600},
      {"x":1.6,"v":32100},{"x":1.65,"v":33200},{"x":1.71,"v":31900},{"x":1.76,"v":32800},{"x":1.81,"v":32300},{"x":1.87,"v":33300},{"x":1.92,"v":31700},{"x":1.97,"v":32600},{"x":2.02,"v":33100},{"x":2.08,"v":32000},{"x":2.13,"v":32900},{"x":2.18,"v":31800},{"x":2.23,"v":33000},{"x":2.29,"v":32400},{"x":2.34,"v":31600},{"x":2.39,"v":32700},
      {"x":1.64,"v":34200},{"x":1.7,"v":34900},{"x":1.77,"v":34400},{"x":1.83,"v":34000},{"x":1.9,"v":34800},{"x":1.96,"v":34300},{"x":2.03,"v":35000},{"x":2.09,"v":34100},{"x":2.16,"v":34700},{"x":2.22,"v":34500},{"x":2.29,"v":34900},{"x":2.35,"v":34200},
      {"x":1.63,"v":36000},{"x":1.68,"v":37100},{"x":1.73,"v":36400},{"x":1.79,"v":35800},{"x":1.84,"v":37300},{"x":1.89,"v":36200},{"x":1.95,"v":37000},{"x":2.0,"v":35700},{"x":2.05,"v":36800},{"x":2.11,"v":37200},{"x":2.16,"v":36100},{"x":2.21,"v":36900},{"x":2.26,"v":35900},{"x":2.32,"v":37400},{"x":2.37,"v":36300},
      {"x":1.66,"v":38000},{"x":1.73,"v":38600},{"x":1.81,"v":37900},{"x":1.88,"v":38400},{"x":1.96,"v":38100},{"x":2.04,"v":38700},{"x":2.11,"v":37800},{"x":2.19,"v":38300},{"x":2.26,"v":38500},{"x":2.33,"v":38000},
      {"x":1.61,"v":40300},{"x":1.67,"v":39600},{"x":1.74,"v":40700},{"x":1.8,"v":39800},{"x":1.87,"v":41000},{"x":1.93,"v":40200},{"x":2.0,"v":39500},{"x":2.06,"v":40800},{"x":2.13,"v":40100},{"x":2.2,"v":40900},{"x":2.27,"v":39700},{"x":2.35,"v":40500},
      {"x":2.803,"v":162400},{"x":2.772,"v":123200},{"x":2.683,"v":116800},{"x":3.228,"v":121500},{"x":3.215,"v":113500},{"x":2.801,"v":81900},{"x":2.76,"v":78700},{"x":2.768,"v":76300},{"x":2.819,"v":77200},{"x":2.739,"v":71800},{"x":2.797,"v":64900},{"x":2.752,"v":57600},{"x":2.596,"v":52900},{"x":2.634,"v":41700},{"x":2.832,"v":40800},{"x":3.016,"v":34600},{"x":3.121,"v":64900},{"x":3.361,"v":64900},{"x":3.197,"v":49300},{"x":3.219,"v":47900},{"x":3.135,"v":43500},{"x":3.152,"v":41900},{"x":3.227,"v":37000},{"x":3.27,"v":37700},{"x":3.37,"v":26900},{"x":3.179,"v":26200},{"x":3.284,"v":20000},{"x":3.335,"v":16100},{"x":2.744,"v":12700},{"x":2.676,"v":7900},{"x":2.751,"v":6500},{"x":2.796,"v":4100},{"x":2.819,"v":5400},{"x":2.87,"v":200},{"x":2.902,"v":3400},{"x":2.964,"v":2300},{"x":3.132,"v":200},{"x":3.219,"v":3600},
      {"x":4.277,"v":60000},{"x":3.609,"v":44700},{"x":3.773,"v":46800},{"x":4.173,"v":44100},{"x":3.618,"v":33100},{"x":3.67,"v":37000},{"x":3.858,"v":34600},{"x":4.163,"v":35000},{"x":3.601,"v":26100},{"x":3.649,"v":27100},{"x":3.942,"v":25200},{"x":4.232,"v":25600},{"x":4.271,"v":25200},{"x":4.347,"v":23000},{"x":3.757,"v":22100},{"x":3.856,"v":20600},{"x":4.156,"v":20900},{"x":4.28,"v":19000},{"x":4.192,"v":17600},{"x":3.627,"v":15700},{"x":3.622,"v":14000},{"x":4.222,"v":12100},{"x":4.027,"v":11400},{"x":3.775,"v":10100},{"x":3.781,"v":7300},{"x":3.96,"v":9300},{"x":4.247,"v":9000},{"x":4.223,"v":6300},{"x":3.632,"v":5600},{"x":4.375,"v":7100},{"x":4.092,"v":2400},{"x":3.935,"v":400},
      {"x":5.361,"v":47100},{"x":4.788,"v":30700},{"x":4.87,"v":28000},{"x":4.936,"v":28800},{"x":4.972,"v":30700},{"x":4.698,"v":21700},{"x":4.658,"v":21300},{"x":4.732,"v":22100},{"x":4.766,"v":22800},{"x":4.636,"v":18500},{"x":4.628,"v":15300},{"x":4.621,"v":14200},{"x":4.803,"v":20600},{"x":4.761,"v":15300},{"x":4.954,"v":26000},{"x":4.976,"v":23900},{"x":4.969,"v":20600},{"x":5.006,"v":26000},{"x":5.028,"v":25600},{"x":5.05,"v":23900},{"x":5.13,"v":23900},{"x":5.174,"v":22800},{"x":5.243,"v":25600},{"x":5.265,"v":22800},{"x":5.295,"v":28200},{"x":5.28,"v":24300},{"x":4.896,"v":17700},{"x":4.926,"v":15300},{"x":4.954,"v":15700},{"x":4.969,"v":16300},{"x":5.016,"v":14200},{"x":5.031,"v":13500},{"x":5.092,"v":20000},{"x":5.13,"v":20600},{"x":5.199,"v":17400},{"x":5.236,"v":16300},{"x":5.25,"v":15300},{"x":5.265,"v":14200},{"x":5.287,"v":15300},{"x":5.31,"v":14200},{"x":5.376,"v":12100},
      {"x":4.621,"v":7700},{"x":4.65,"v":8800},{"x":4.665,"v":11000},{"x":4.68,"v":9900},{"x":4.702,"v":11000},{"x":4.717,"v":8800},{"x":4.739,"v":5600},{"x":4.754,"v":7700},{"x":4.769,"v":9900},{"x":4.784,"v":6700},{"x":4.791,"v":5600},{"x":4.85,"v":9900},{"x":4.873,"v":11000},{"x":4.895,"v":7700},{"x":4.924,"v":4500},{"x":4.939,"v":12000},{"x":4.984,"v":11000},{"x":5.013,"v":6700},{"x":5.028,"v":14200},{"x":5.058,"v":9900},{"x":5.08,"v":7700},{"x":5.102,"v":6700},{"x":5.117,"v":4500},{"x":5.161,"v":3400},{"x":5.184,"v":9900},{"x":5.206,"v":8800},{"x":5.221,"v":7700},{"x":5.25,"v":4500},{"x":5.287,"v":6700},{"x":5.31,"v":7700},{"x":5.324,"v":4500},{"x":5.354,"v":5600},{"x":5.369,"v":3400},
      {"x":4.673,"v":1300},{"x":4.717,"v":2400},{"x":4.761,"v":1300},{"x":4.784,"v":1900},{"x":4.836,"v":3400},{"x":4.88,"v":2800},{"x":4.924,"v":3400},{"x":4.984,"v":3400},{"x":5.043,"v":1300},{"x":5.132,"v":2400},{"x":5.191,"v":1300},{"x":5.265,"v":1900},{"x":5.31,"v":1300},{"x":5.361,"v":2400},
      {"x":4.64,"v":4500},{"x":4.7,"v":3000},{"x":4.81,"v":10500},{"x":4.83,"v":13000},{"x":4.9,"v":11200},{"x":4.96,"v":8500},{"x":5.0,"v":4600},{"x":5.07,"v":1800},{"x":5.1,"v":12500},{"x":5.15,"v":10800},{"x":5.16,"v":6200},{"x":5.2,"v":2900},{"x":5.23,"v":11600},{"x":5.34,"v":9800},{"x":5.37,"v":8200},{"x":4.86,"v":6000},{"x":4.95,"v":600},{"x":5.04,"v":9000},{"x":4.71,"v":13500},{"x":5.12,"v":15800},{"x":4.84,"v":17000},{"x":5.06,"v":18200},{"x":5.21,"v":20500}
    ]
  },
  "layer": [
    {
      "data": {"name": "violin"},
      "mark": {"type": "area", "orient": "horizontal", "interpolate": "monotone", "stroke": "#333333", "strokeWidth": 3, "strokeJoin": "round", "fillOpacity": 1},
      "encoding": {
        "y": {
          "field": "v", "type": "quantitative",
          "scale": {"domain": [-19000, 390300], "nice": false, "zero": false},
          "axis": {
            "title": null, "grid": false,
            "values": [0, 100000, 200000, 300000],
            "labelExpr": "datum.value == 0 ? '0e+00' : format(datum.value / 100000, 'd') + 'e+05'",
            "labelFont": "Liberation Sans", "labelFontSize": 31.5, "labelColor": "black", "labelPadding": 8,
            "tickSize": 9, "tickWidth": 2, "tickColor": "black",
            "domainColor": "black", "domainWidth": 2
          }
        },
        "x": {
          "field": "lo", "type": "quantitative",
          "scale": {"domain": [0.4, 5.6], "nice": false, "zero": false},
          "axis": {
            "title": "Identity", "grid": false,
            "values": [1, 2, 3, 4, 5],
            "labelExpr": "['donor0', 'donor1', 'doublet', 'unassigned', 'NA'][datum.value - 1]",
            "labelAngle": -45, "labelAlign": "right", "labelBaseline": "top", "labelFlush": false, "labelOverlap": false,
            "labelFont": "Liberation Sans", "labelFontSize": 31.5, "labelColor": "black", "labelPadding": 4,
            "tickSize": 8, "tickWidth": 2, "tickColor": "black",
            "domainColor": "black", "domainWidth": 2,
            "titleFont": "Liberation Sans", "titleFontSize": 36, "titleFontWeight": "normal", "titleColor": "black", "titlePadding": 12
          }
        },
        "x2": {"field": "hi"},
        "color": {
          "field": "g", "type": "nominal",
          "scale": {"domain": ["donor0", "donor1", "doublet", "unassigned", "NA"], "range": ["#F8766D", "#7CAE00", "#00BFC4", "#C77CFF", "#7F7F7F"]},
          "legend": null
        }
      }
    },
    {
      "data": {"name": "cells"},
      "mark": {"type": "point", "filled": true, "color": "black", "size": 26, "opacity": 1},
      "encoding": {
        "x": {"field": "x", "type": "quantitative"},
        "y": {"field": "v", "type": "quantitative"}
      }
    }
  ]
}
